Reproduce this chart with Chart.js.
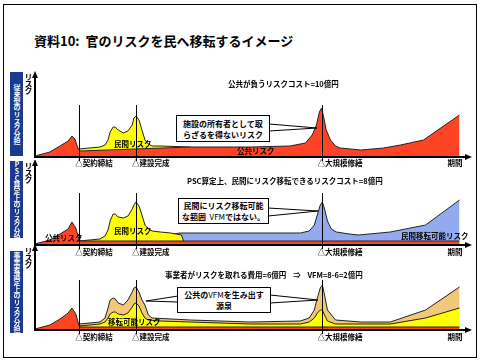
<!DOCTYPE html>
<html>
<head>
<meta charset="utf-8">
<script src="https://cdn.jsdelivr.net/npm/chart.js@4.4.1/dist/chart.umd.min.js"></script>
<style>
  body { margin: 0; width: 481px; height: 362px; background: #fff; position: relative; overflow: hidden;
         font-family: "Noto Sans CJK JP", sans-serif; font-weight: bold; color: #000; }
  .frame { position: absolute; left: 3px; top: 4px; width: 472px; height: 352px; border: 1px solid #000; }
  .title { position: absolute; left: 34px; top: 31px; font-size: 13px; white-space: nowrap; }
  canvas { position: absolute; left: 0; }
  .side { position: absolute; left: 10px; width: 13px; background: #1c3a8e; color: #fff; font-size: 7px;
          writing-mode: vertical-rl; text-orientation: upright; white-space: nowrap; text-align: center;
          letter-spacing: -0.3px; line-height: 13px; overflow: hidden; }
  .ylab { position: absolute; left: 23px; font-size: 8px; writing-mode: vertical-rl; text-orientation: upright; line-height: 10px; letter-spacing: -1px; white-space: nowrap; }
  .t { position: absolute; font-size: 7.5px; white-space: nowrap; line-height: 9px; }
  .box { position: absolute; background: #fff; border: 1px solid #000; font-size: 8px; line-height: 11px;
         text-align: center; display: flex; flex-direction: column; justify-content: center; box-sizing: border-box; }
  svg { position: absolute; left: 0; top: 0; }
</style>
</head>
<body>
<div class="frame"></div>
<div class="title">資料10:&nbsp;&nbsp;官のリスクを民へ移転するイメージ</div>

<canvas id="p1" width="481" height="110" style="top:60px"></canvas>
<canvas id="p2" width="481" height="95" style="top:160px"></canvas>
<canvas id="p3" width="481" height="100" style="top:245px"></canvas>

<svg width="481" height="362" id="callouts">
  <polygon points="269,124 269,131 317,128" fill="#fff" stroke="#000" stroke-width="1"/>
  <polygon points="268,208 268,216 318,211" fill="#fff" stroke="#000" stroke-width="1"/>
  <polygon points="270,295 270,303 318,300" fill="#fff" stroke="#000" stroke-width="1"/>
  <polygon points="178,296 178,302 146,301" fill="#fff" stroke="#000" stroke-width="1"/>
</svg>

<div class="side" style="top:72px;height:84px">従来型のリスク分担</div>
<div class="side" style="top:161px;height:77px">PSC算定上のリスク分担</div>
<div class="side" style="top:251px;height:82px">事業者選定上のリスク分担</div>
<div class="ylab" style="top:73px">リスク</div>
<div class="ylab" style="top:162px">リスク</div>
<div class="ylab" style="top:247px">リスク</div>

<div class="t" style="left:228px;top:79px">公共が負うリスクコスト=10億円</div>
<div class="t" style="left:187px;top:176px">PSC算定上、民間にリスク移転できるリスクコスト=8億円</div>
<div class="t" style="left:165px;top:270px">事業者がリスクを取れる費用=6億円&nbsp;&nbsp;&nbsp;&nbsp;⇒&nbsp;&nbsp;&nbsp;&nbsp;VFM=8-6=2億円</div>

<div class="box" style="left:176px;top:115px;width:94px;height:27px"><div>施設の所有者として取</div><div>らざるを得ないリスク</div></div>
<div class="box" style="left:178px;top:198px;width:91px;height:26px"><div>民間にリスク移転可能</div><div>な範囲&nbsp;&nbsp;<span style="font-weight:normal">VFM</span>ではない。</div></div>
<div class="box" style="left:177px;top:287px;width:94px;height:26px"><div>公共の<span style="font-weight:normal">VFM</span>を生み出す</div><div>源泉</div></div>

<div class="t" style="left:114px;top:139px">民間リスク</div>
<div class="t" style="left:237px;top:146px">公共リスク</div>
<div class="t" style="left:45px;top:233px">公共リスク</div>
<div class="t" style="left:114px;top:226px">民間リスク</div>
<div class="t" style="left:401px;top:231px">民間移転可能リスク</div>
<div class="t" style="left:108px;top:317px">移転可能リスク</div>

<script>
// time axis: 0 = start, 100 = end of period
const markTimes = [10.4, 23.8, 67.5];
const markLabels = ['△契約締結', '△建設完成', '△大規模修繕'];
const endLabel = '期間';

// panel 1: conventional
const p1Public = [[0,1],[3.5,5],[5.9,11],[7.8,16],[8.7,21],[9.4,18],[10.1,9],[10.6,6],[36.6,10],[50.7,10],[60.1,11],[63.7,14],[65.3,22],[66.3,32],[67,45],[67.5,49],[67.9,42],[68.6,27],[69.6,17],[70.8,11],[71.9,9],[76.7,7],[82.1,9],[86.1,12],[91.5,17],[100,42]];
const p1Private = [[10.4,8],[15.3,10],[16.5,12],[17.2,17],[17.7,25],[18.4,30],[18.9,30],[19.6,27],[20.8,24],[21.9,26],[22.9,32],[23.3,39],[23.8,41],[24.5,37],[25.2,27],[25.9,17],[26.7,13],[27.6,11],[29.5,11],[36.6,10]];

// panel 2: PSC
const p2Public = [[0,1],[3.5,5],[5.9,11],[7.8,16],[8.7,23],[9.6,17],[10.4,5],[10.6,4],[100,4]];
const p2Private = [[10.4,4],[15.3,6],[16.5,9],[17.2,15],[17.7,24],[18.4,31],[18.9,31],[19.6,28],[20.8,27],[21.9,29],[22.9,36],[23.3,40],[23.8,43],[24.5,39],[25.2,30],[25.9,20],[26.7,16],[27.6,14],[29.5,13],[32,12],[34.5,10],[35,4]];
const p2Transfer = [[25,4],[28,7],[31,10],[34.2,12],[62.5,12],[64.6,14],[65.8,20],[66.5,30],[67.2,40],[67.7,43],[68.2,36],[68.9,24],[69.8,16],[71,13],[74,11],[76.2,10],[83.7,13],[92,20],[100,45]];

// panel 3: bidder
const p3Public = [[0,1],[3.5,5],[5.9,11],[7.8,17],[8.7,22],[9.6,16],[10.4,4],[10.6,3],[100,3]];
const p3Private = [[10.4,4],[15.3,6],[16.5,8],[17.2,12],[17.7,16],[18.4,18],[18.9,18],[19.6,16],[20.8,15],[21.9,17],[22.9,23],[23.3,26],[23.8,27],[24.5,24],[25.2,17],[25.9,12],[26.7,10],[29.5,9],[36.6,8],[50.7,6],[62.5,6],[64.6,8],[65.8,12],[66.5,17],[67.2,20],[67.7,20],[68.2,15],[68.9,9],[70.8,6],[83.7,6],[92,12],[100,22]];
const p3Bidder = [[10.4,6],[15.3,8],[16.5,12],[17.2,22],[17.7,30],[18.4,32],[18.9,31],[19.6,27],[20.8,25],[21.9,30],[22.9,38],[23.3,42],[23.8,43],[24.5,38],[25.2,30],[25.9,25],[26.7,15],[27.6,12],[36.6,10],[50.7,8],[62.5,9],[64.6,12],[65.8,20],[66.5,32],[67.2,42],[67.7,45],[68.2,35],[68.9,20],[70.8,10],[76.7,8],[83.7,8],[92,20],[100,43]];

const RED = '#ff4426', YELLOW = '#ffff00', BLUE = '#94aaee', TAN = '#f0c878';

const toPts = arr => arr.map(([x, y]) => ({ x, y }));

function area(data, color) {
  return { data: toPts(data), backgroundColor: color, borderColor: '#222', borderWidth: 1,
           fill: 'origin', pointRadius: 0, tension: 0 };
}

// axes with arrows + milestone lines
const axesPlugin = {
  id: 'axes',
  afterDatasetsDraw(chart, args, opts) {
    const { ctx, chartArea: a, scales } = chart;
    ctx.save();
    ctx.strokeStyle = '#000';
    ctx.fillStyle = '#000';
    ctx.lineWidth = 1;
    markTimes.forEach(t => {
      const x = Math.round(scales.x.getPixelForValue(t)) + 0.5;
      ctx.beginPath();
      ctx.moveTo(x, scales.y.getPixelForValue(opts.markTop));
      ctx.lineTo(x, a.bottom + 4);
      ctx.stroke();
    });
    ctx.lineWidth = 2;
    ctx.beginPath();
    ctx.moveTo(a.left, a.top - 2);
    ctx.lineTo(a.left, a.bottom);
    ctx.lineTo(a.right, a.bottom);
    ctx.stroke();
    ctx.beginPath();
    ctx.moveTo(a.left, a.top - 6); ctx.lineTo(a.left - 3, a.top + 1); ctx.lineTo(a.left + 3, a.top + 1);
    ctx.fill();
    ctx.beginPath();
    ctx.moveTo(a.right + 4, a.bottom); ctx.lineTo(a.right - 3, a.bottom - 3); ctx.lineTo(a.right - 3, a.bottom + 3);
    ctx.fill();
    ctx.restore();
  }
};

function makePanel(id, datasets, pad, markTop, labelTop) {
  const chart = new Chart(document.getElementById(id), {
    type: 'line',
    data: { datasets },
    options: {
      responsive: false,
      animation: false,
      layout: { padding: { left: 35, right: 13, top: pad[0], bottom: pad[1] } },
      scales: {
        x: { type: 'linear', min: 0, max: 102, display: false },
        y: { min: 0, max: 80, display: false }
      },
      plugins: { legend: { display: false }, tooltip: { enabled: false }, axes: { markTop } }
    },
    plugins: [axesPlugin]
  });
  const sx = chart.scales.x;
  markTimes.forEach((t, i) => {
    const d = document.createElement('div');
    d.className = 't';
    d.textContent = markLabels[i];
    d.style.left = (sx.getPixelForValue(t) - 4) + 'px';
    d.style.top = labelTop + 'px';
    document.body.appendChild(d);
  });
  const e = document.createElement('div');
  e.className = 't';
  e.textContent = endLabel;
  e.style.left = (sx.getPixelForValue(100) - 12) + 'px';
  e.style.top = labelTop + 'px';
  document.body.appendChild(e);
  return chart;
}

makePanel('p1', [area(p1Public, RED), area(p1Private, YELLOW)], [17, 13], 52, 158);
makePanel('p2', [area(p2Public, RED), area(p2Private, YELLOW), area(p2Transfer, BLUE)], [5, 10], 52, 247);
makePanel('p3', [area(p3Public, RED), area(p3Private, YELLOW), area(p3Bidder, TAN)], [5, 15], 50, 332);
</script>
</body>
</html>
